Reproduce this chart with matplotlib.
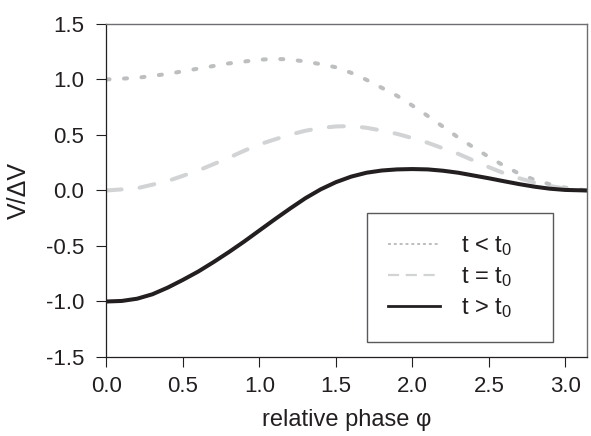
import matplotlib
matplotlib.use("Agg")
import matplotlib.pyplot as plt
from matplotlib.lines import Line2D
import numpy as np

# ---- data ----
phi_before = [0.0, 0.2, 0.4, 0.6, 0.8, 1.0, 1.1, 1.2, 1.3, 1.4, 1.5, 1.6, 1.7, 1.8, 1.9,
              2.0, 2.1, 2.2, 2.3, 2.4, 2.5, 2.6, 2.7, 2.8, 2.9, 3.0, 3.1416]
v_before = [1.0, 1.015, 1.05, 1.098, 1.145, 1.178, 1.186, 1.18, 1.162, 1.138, 1.11, 1.06,
            0.997, 0.925, 0.853, 0.765, 0.672, 0.575, 0.477, 0.388, 0.302, 0.222, 0.15,
            0.095, 0.055, 0.025, 0.0]

phi_equal = [0.0, 0.2, 0.4, 0.6, 0.8, 0.9, 1.0, 1.1, 1.2, 1.3, 1.4, 1.5, 1.6, 1.7, 1.8,
             1.9, 2.0, 2.1, 2.2, 2.3, 2.4, 2.5, 2.6, 2.7, 2.8, 2.9, 3.0, 3.1416]
v_equal = [0.0, 0.02, 0.085, 0.18, 0.295, 0.358, 0.415, 0.46, 0.503, 0.538, 0.563, 0.577,
           0.58, 0.565, 0.54, 0.51, 0.472, 0.43, 0.38, 0.33, 0.27, 0.21, 0.155, 0.11,
           0.07, 0.04, 0.018, 0.0]

phi_after = [0.0, 0.1, 0.2, 0.3, 0.4, 0.5, 0.6, 0.7, 0.8, 0.9, 1.0, 1.1, 1.2, 1.3, 1.4,
             1.5, 1.6, 1.7, 1.8, 1.9, 2.0, 2.1, 2.2, 2.3, 2.4, 2.5, 2.6, 2.7, 2.8, 2.9,
             3.0, 3.1416]
v_after = [-1.0, -0.995, -0.975, -0.935, -0.875, -0.805, -0.73, -0.645, -0.555, -0.46,
           -0.36, -0.26, -0.163, -0.07, 0.01, 0.075, 0.125, 0.16, 0.18, 0.19, 0.193,
           0.19, 0.178, 0.16, 0.135, 0.11, 0.083, 0.057, 0.034, 0.016, 0.005, 0.0]

labels = ["t < t$_0$", "t = t$_0$", "t > t$_0$"]
xticks = [0.0, 0.5, 1.0, 1.5, 2.0, 2.5, 3.0]
yticks = [-1.5, -1.0, -0.5, 0.0, 0.5, 1.0, 1.5]

plt.rcParams['font.family'] = ['Liberation Sans', 'DejaVu Sans']
plt.rcParams['mathtext.fontset'] = 'custom'
plt.rcParams['mathtext.rm'] = 'Liberation Sans'
plt.rcParams['mathtext.default'] = 'regular'

c_dot = '#bcbec0'
c_dash = '#d1d3d4'
c_solid = '#231f20'

fig = plt.figure(figsize=(5.91, 4.36), dpi=100)
ax = fig.add_axes([0.1802, 0.1812, 0.8130, 0.7638])

lw = 2.9
ax.plot(phi_before, v_before, color=c_dot, lw=lw, dash_capstyle='round',
        dashes=(0.75, 3.6), solid_capstyle='round')
ax.plot(phi_equal, v_equal, color=c_dash, lw=lw, dash_capstyle='round',
        dashes=(3.75, 4.5))
ax.plot(phi_after, v_after, color=c_solid, lw=lw, solid_capstyle='round',
        solid_joinstyle='round')

ax.set_xlim(0, np.pi)
ax.set_ylim(-1.5, 1.5)
ax.set_xticks(xticks)
ax.set_xticklabels([f"{t:.1f}" for t in xticks])
ax.set_yticks(yticks)
ax.set_yticklabels([f"{t:.1f}" for t in yticks])
ax.tick_params(direction='out', length=7, width=0.8, colors='#231f20',
               labelsize=16, top=False, right=False)
ax.tick_params(axis='x', pad=7)
ax.tick_params(axis='y', pad=9)

for s in ['left', 'bottom']:
    ax.spines[s].set_color('#231f20')
    ax.spines[s].set_linewidth(0.9)
for s in ['top', 'right']:
    ax.spines[s].set_color('#6d6e71')
    ax.spines[s].set_linewidth(1.0)

ax.set_xlabel("relative phase φ", fontsize=17, color='#231f20', labelpad=8)
ax.set_ylabel("V/ΔV", fontsize=18, color='#231f20', labelpad=11)

h1 = Line2D([], [], color=c_dot, lw=1.4, dashes=(1.5, 1.5))
h2 = Line2D([], [], color=c_dash, lw=1.6, dashes=(5, 3))
h3 = Line2D([], [], color=c_solid, lw=2.0)
leg = ax.legend([h1, h2, h3], labels, loc='upper left',
                bbox_to_anchor=(0.542, 0.054, 0.387, 0.378), mode='expand',
                borderaxespad=0, fontsize=17, frameon=True, fancybox=False,
                edgecolor='#58595b', framealpha=1, handlelength=2.2,
                handletextpad=0.9, labelspacing=0.3, borderpad=0.9)
leg.get_frame().set_linewidth(1.0)
for t in leg.get_texts():
    t.set_color('#231f20')

fig.savefig("out.png", dpi=100)
